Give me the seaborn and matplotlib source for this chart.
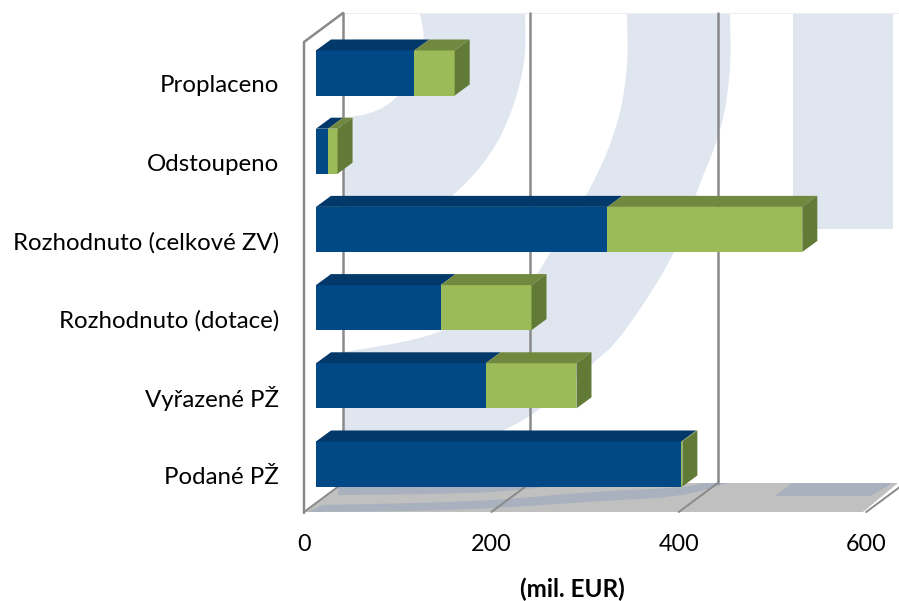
import matplotlib.pyplot as plt
import numpy as np
import seaborn as sns
from matplotlib.transforms import ScaledTranslation

# Data (mil. EUR), top row first
categories = ['Proplaceno', 'Odstoupeno', 'Rozhodnuto (celkové ZV)',
              'Rozhodnuto (dotace)', 'Vyřazené PŽ', 'Podané PŽ']
blue_values = [105, 13, 311, 133, 181, 390]
green_values = [43, 10, 208, 97, 97, 1]
x_ticks = [0, 200, 400, 600]

BLUE, BLUE_TOP = '#004886', '#03386a'
GREEN, GREEN_TOP, GREEN_SIDE = '#9bbb59', '#71893f', '#617a36'
GRID = '#8a8a8a'
WASH = '#e0e6f0'
FLOOR, FLOOR_WASH = '#c0c0c0', '#a9b1be'

PX_PER_EUR = 0.937
PX_PER_ROW = 78.2
BAR_X0, ROW0_Y = 316, 73
AXIS_X0, FLOOR_Y, WALL_Y = 304, 512, 483
DEPTH_X, DEPTH_Y = 39, 29
BAR_DX, BAR_DY = 15, 11
BAR_HEIGHT = 0.576


def smooth(points, rounds=3):
    # corner cutting, only for the background picture
    pts = np.array(points, dtype=float)
    for _ in range(rounds):
        q = 0.75 * pts[:-1] + 0.25 * pts[1:]
        r = 0.25 * pts[:-1] + 0.75 * pts[1:]
        mid = np.empty((len(q) * 2, 2))
        mid[0::2], mid[1::2] = q, r
        pts = np.vstack([pts[0], mid, pts[-1]])
    return pts


def crescent(outer, inner, color, ax):
    pts = np.vstack([smooth(outer), smooth(inner)[::-1]])
    ax.fill(pts[:, 0], pts[:, 1], color=color, lw=0)


sns.set_style('white')
plt.rcParams['font.family'] = ['Lato', 'DejaVu Sans']

fig = plt.figure(figsize=(8.99, 6.01), dpi=100)

# Background layer in pixels: watermark, floor, walls
bg = fig.add_axes([0, 0, 1, 1])
bg.set_xlim(0, 899)
bg.set_ylim(601, 0)
bg.axis('off')

crescent([(525, 13), (526, 60), (512, 113), (490, 157), (453, 197), (400, 235), (343, 250)],
         [(420, 13), (425, 40), (418, 73), (392, 103), (370, 114), (343, 118)], WASH, bg)
crescent([(730, 13), (731, 70), (722, 130), (695, 195), (677, 252), (620, 340), (593, 363),
          (543, 408), (510, 428), (440, 460), (343, 480)],
         [(627, 13), (628, 70), (617, 130), (588, 195), (550, 252), (533, 283), (447, 330),
          (413, 340), (370, 348), (343, 352)], WASH, bg)
bg.fill([793, 893, 893, 793], [13, 13, 229, 229], color=WASH, lw=0)
bg.plot([343, 899], [13, 13], color='#eeeeee', lw=0.7)

bg.fill([304, 863, 898, 343], [512, 512, WALL_Y, WALL_Y], color=FLOOR, lw=0)
crescent([(338, 487), (450, 487), (560, 485)],
         [(338, 495), (440, 494), (500, 492), (560, 485)], FLOOR_WASH, bg)
crescent([(322, 505), (420, 503), (500, 500), (600, 491), (680, 488), (705, 483)],
         [(308, 512), (420, 511), (500, 508), (600, 501), (680, 497), (728, 483)], FLOOR_WASH, bg)
bg.fill([775, 792, 893, 870], [496, WALL_Y, WALL_Y, 496], color=FLOOR_WASH, lw=0)

for v in x_ticks:
    x = AXIS_X0 + v * PX_PER_EUR
    bg.plot([x, x + DEPTH_X], [FLOOR_Y, WALL_Y], color=GRID, lw=1.4)
    if v < 600:
        bg.plot([x + DEPTH_X] * 2, [WALL_Y, 13], color=GRID, lw=1.8)
bg.plot([AXIS_X0, AXIS_X0, AXIS_X0 + DEPTH_X], [FLOOR_Y + 1, 42, 13], color=GRID, lw=1.8)

# Bars: seaborn draws the front faces, green total first, blue on top
totals = [b + g for b, g in zip(blue_values, green_values)]

ax = fig.add_axes([BAR_X0 / 899, (601 - FLOOR_Y) / 601, (899 - BAR_X0) / 899, FLOOR_Y / 601])
ax.patch.set_alpha(0)
sns.barplot(x=totals, y=categories, order=categories, color=GREEN, saturation=1,
            width=BAR_HEIGHT, linewidth=0, ax=ax)
sns.barplot(x=blue_values, y=categories, order=categories, color=BLUE, saturation=1,
            width=BAR_HEIGHT, linewidth=0, ax=ax)
ax.set_xlim(0, (899 - BAR_X0) / PX_PER_EUR)
ax.set_ylim((FLOOR_Y - ROW0_Y) / PX_PER_ROW, -ROW0_Y / PX_PER_ROW)

# 3D top and side faces, built from the same values
dx = BAR_DX / PX_PER_EUR
dy = BAR_DY / PX_PER_ROW
for i, (b, t) in enumerate(zip(blue_values, totals)):
    top = i - BAR_HEIGHT / 2
    bottom = i + BAR_HEIGHT / 2
    ax.fill([0, b, b + dx, dx], [top, top, top - dy, top - dy], color=BLUE_TOP, lw=0, clip_on=False)
    ax.fill([b, t, t + dx, b + dx], [top, top, top - dy, top - dy], color=GREEN_TOP, lw=0, clip_on=False)
    ax.fill([t, t + dx, t + dx, t], [top, top - dy, bottom - dy, bottom], color=GREEN_SIDE, lw=0, clip_on=False)

sns.despine(ax=ax, left=True, bottom=True)
ax.set_xticks(x_ticks)
ax.set_xticklabels([str(v) for v in x_ticks])
ax.tick_params(axis='x', length=0, pad=16, labelsize=16.8, labelcolor='black')
ax.tick_params(axis='y', length=0, pad=26.5, labelsize=17.3, labelcolor='black')
x_shift = ScaledTranslation(-12 / 100, 0, fig.dpi_scale_trans)
for label in ax.get_xticklabels():
    label.set_transform(label.get_transform() + x_shift)
# the row labels sit a little under the middle of each bar
y_shift = ScaledTranslation(0, -11 / 100, fig.dpi_scale_trans)
for label in ax.get_yticklabels():
    label.set_transform(label.get_transform() + y_shift)
ax.set_ylabel('')
ax.set_xlabel('(mil. EUR)', fontsize=17.5, fontweight='bold', color='black',
              x=(572 - BAR_X0) / (899 - BAR_X0), labelpad=16)

fig.savefig('out.png', dpi=100)
